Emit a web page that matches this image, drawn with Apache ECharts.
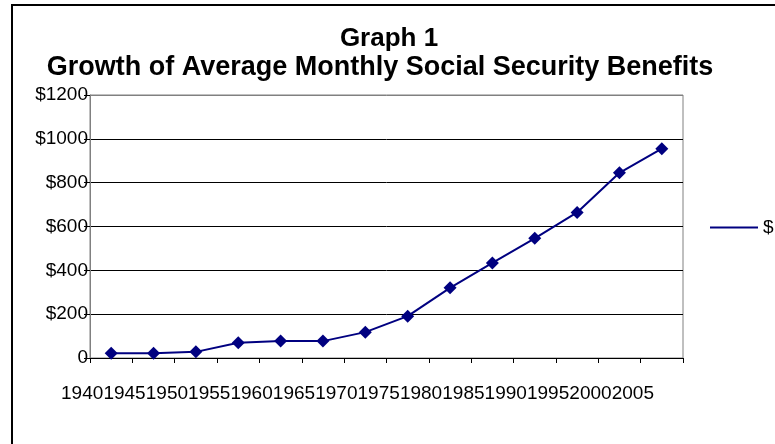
<!DOCTYPE html>
<html>
<head>
<meta charset="utf-8">
<script src="https://cdn.jsdelivr.net/npm/echarts@6/dist/echarts.min.js"></script>
<style>
  html, body { margin: 0; padding: 0; background: #fff; }
  #chart { width: 775px; height: 444px; }
</style>
</head>
<body>
<div id="chart"></div>
<script>
// 年份与平均月福利
var years = ['1940', '1945', '1950', '1955', '1960', '1965', '1970',
             '1975', '1980', '1985', '1990', '1995', '2000', '2005'];
var benefits = [22, 22, 28, 70, 77, 77, 118, 191, 320, 434, 546, 664, 845, 955];
var seriesName = '$';

var chart = echarts.init(document.getElementById('chart'));
var font = 'Liberation Sans, Arial, sans-serif';

var option = {
  backgroundColor: '#fff',
  animation: false,
  textStyle: { fontFamily: font },
  graphic: [{
    type: 'rect',
    shape: { x: 12, y: 5, width: 800, height: 500 },
    style: { fill: 'none', stroke: '#000', lineWidth: 2 }
  }],
  title: [{
    text: 'Graph 1',
    left: 384, top: 21, textAlign: 'center',
    textStyle: { fontSize: 26, fontWeight: 'bold', color: '#000', fontFamily: font }
  }, {
    text: 'Growth of Average Monthly Social Security Benefits',
    left: 375, top: 49, textAlign: 'center',
    textStyle: { fontSize: 27, fontWeight: 'bold', color: '#000', fontFamily: font }
  }],
  legend: {
    left: 705, top: 213,
    icon: 'rect', itemWidth: 48, itemHeight: 2, itemGap: 6,
    textStyle: { fontSize: 19, color: '#000', fontFamily: font },
    data: [seriesName]
  },
  grid: {
    left: 90, right: 92, top: 95, bottom: 86,
    show: true, borderColor: '#808080', borderWidth: 1
  },
  xAxis: {
    type: 'category',
    data: years,
    axisLine: { lineStyle: { color: '#000', width: 1 } },
    axisTick: { show: true, length: 5, lineStyle: { color: '#000' } },
    axisLabel: {
      interval: 0, margin: 26, fontSize: 19, color: '#000',
      padding: [0, 58, 0, 0]
    },
    splitLine: { show: false }
  },
  yAxis: {
    type: 'value',
    min: 0, max: 1200, interval: 200,
    axisLine: { show: true, lineStyle: { color: '#808080' } },
    axisTick: { show: true, length: 6, lineStyle: { color: '#000' } },
    axisLabel: {
      margin: 2, fontSize: 19, color: '#000',
      formatter: function (v) { return v === 0 ? '0' : '$' + v; }
    },
    splitLine: {
      show: true,
      lineStyle: { color: ['#000', '#000', '#000', '#000', '#000', '#000', '#808080'], width: 1 }
    }
  },
  series: [{
    name: seriesName,
    type: 'line',
    data: benefits,
    symbol: 'diamond',
    symbolSize: 13,
    lineStyle: { color: '#000080', width: 2 },
    itemStyle: { color: '#000080' }
  }]
};
chart.setOption(option);
</script>
</body>
</html>
